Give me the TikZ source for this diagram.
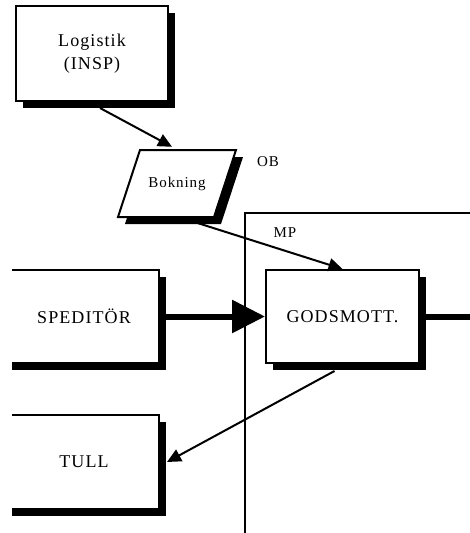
\documentclass[tikz,border=0pt]{standalone}
\usepackage{fontspec}
\setmainfont{Liberation Serif}
\newfontfamily\boxfont[LetterSpace=6]{Liberation Serif}
\usetikzlibrary{positioning, arrows.meta, shadows}

\begin{document}
\begin{tikzpicture}[
  x=1pt, y=-1pt,
  node distance=50pt and 105pt,
  box/.style={rectangle, draw, line width=2pt, fill=white,
              minimum width=150pt, minimum height=93pt, align=center,
              inner sep=2pt, font=\boxfont\fontsize{18}{23}\selectfont,
              general shadow={fill=black, shadow xshift=7pt, shadow yshift=-7pt}},
  leftbox/.style={box, minimum width=190pt, anchor=east},
  doc/.style={rectangle, minimum width=96pt, minimum height=67pt, inner sep=1pt,
              font=\boxfont\fontsize{15}{18}\selectfont},
  frame/.style={rectangle, draw, line width=2pt, anchor=north west,
                minimum width=260pt, minimum height=340pt},
  arr/.style={-{Triangle[length=14pt, width=13pt]}, line width=2pt},
  bigarr/.style={-{Triangle[length=33pt, width=32pt]}, line width=6pt},
  lbl/.style={font=\boxfont\fontsize{15}{18}\selectfont, inner sep=1pt}
]
\useasboundingbox (0,0) rectangle (470,533);
\begin{scope}
\clip (12,0) rectangle (470,533);

% MP area
\node[frame] (mp) at (244,212) {};
\node[lbl] (mplbl) at (285,233) {MP};

% Row 1: Logistik and booking
\node[box, minimum width=152pt, minimum height=95pt] (log) at (92,53.5) {Logistik\\(INSP)};
\fill (147,157) -- (243,157) -- (221,224) -- (125,224) -- cycle;
\draw[line width=2pt, fill=white] (140,150) -- (236,150) -- (214,217) -- (118,217) -- cycle;
\node[doc] (bok) at (177,183.5) {Bokning};
\node[lbl] (oblbl) at (268,162) {OB};

% Row 2 (left part cut off)
\node[leftbox] (sped) at (160,316.5) {\hspace*{40pt}SPEDITÖR};
\node[box, minimum width=153pt, right=105pt of sped] (gm) {GODSMOTT.};
\coordinate (gmout) at (470,316.5);

% Row 3
\node[leftbox, minimum height=94pt, below=50pt of sped] (tull) {\hspace*{40pt}TULL};

% Arrows
\draw[arr] ([xshift=8pt, yshift=-6pt]log.south) -- ([xshift=-5pt, yshift=3pt]bok.north);
\draw[arr] ([xshift=18pt, yshift=-5pt]bok.south) -- (gm.north);
\draw[bigarr] (sped.east) -- (gm.west);
\draw[line width=6pt] (gm.east) -- (gmout);
\draw[arr] ([xshift=-8pt, yshift=-7pt]gm.south) -- ([xshift=7pt]tull.east);
\end{scope}
\end{tikzpicture}
\end{document}
